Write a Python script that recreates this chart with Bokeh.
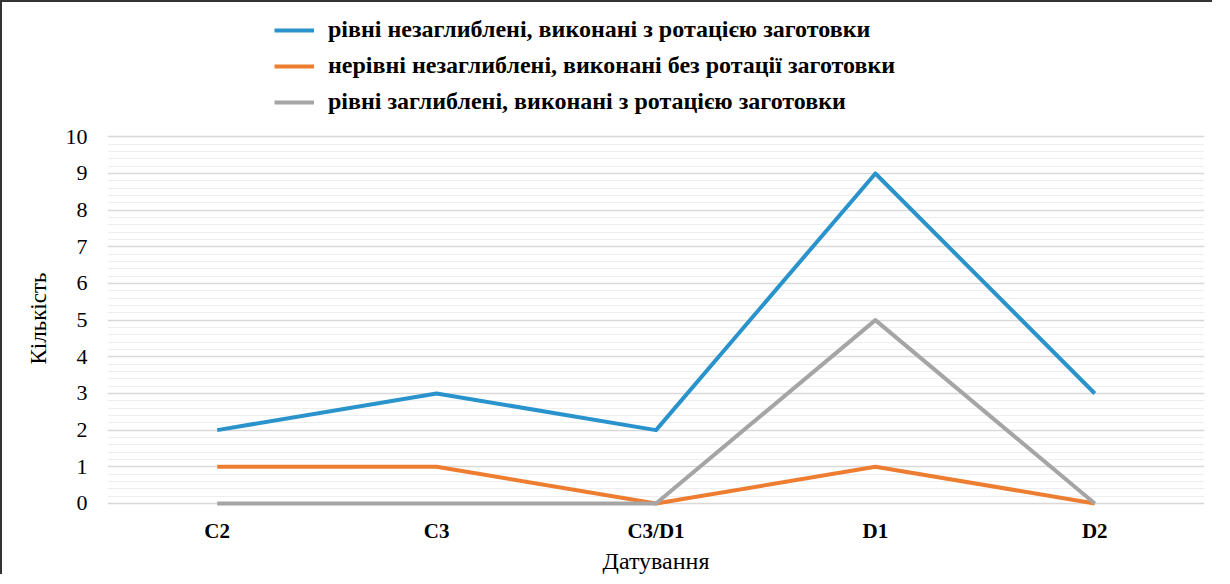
from bokeh.plotting import figure
from bokeh.models import Range1d, FactorRange, Legend, LegendItem, SingleIntervalTicker, Title
from bokeh.embed import file_html
from bokeh.resources import INLINE

categories = ["C2", "C3", "C3/D1", "D1", "D2"]
series_names = [
    "рівні незаглиблені, виконані з ротацією заготовки",
    "нерівні незаглиблені, виконані без ротації заготовки",
    "рівні заглиблені, виконані з ротацією заготовки",
]
blue_vals = [2, 3, 2, 9, 3]
orange_vals = [1, 1, 0, 1, 0]
gray_vals = [0, 0, 0, 5, 0]
colors = ["#2a93cc", "#ed7d31", "#a5a5a5"]
x_title = "Датування"
y_title = "Кількість"

FONT = "Liberation Serif"

p = figure(width=1212, height=574, x_range=FactorRange(*categories, range_padding=0),
           y_range=Range1d(-0.11, 13.39), output_backend="svg", toolbar_location=None,
           min_border_left=105, min_border_right=10, min_border_top=10,
           min_border_bottom=66)
p.styles = {"border-top": "2px solid #333", "border-left": "2px solid #333"}
p.outline_line_color = None
p.background_fill_color = "white"
p.border_fill_color = "white"

rs = []
for vals, c in zip([blue_vals, orange_vals, gray_vals], colors):
    r = p.line(categories, vals, line_color=c, line_width=4, line_join="round")
    rs.append(r)

p.yaxis.ticker = SingleIntervalTicker(interval=1, num_minor_ticks=5)
p.yaxis.bounds = (0, 10)
p.ygrid.grid_line_color = "#d9d9d9"
p.ygrid.grid_line_width = 1.5
p.ygrid.minor_grid_line_color = "#eeeeee"
p.ygrid.minor_grid_line_width = 1
p.xgrid.grid_line_color = None

for ax in (p.xaxis[0], p.yaxis[0]):
    ax.axis_line_color = None
    ax.major_tick_line_color = None
    ax.minor_tick_line_color = None
    ax.major_tick_out = 0
    ax.major_tick_in = 0
    ax.minor_tick_out = 0
    ax.minor_tick_in = 0
    ax.major_label_text_font = FONT
    ax.major_label_text_color = "#000000"
    ax.axis_label_text_font = FONT
    ax.axis_label_text_font_style = "normal"
    ax.axis_label_text_color = "#000000"

p.yaxis.major_label_text_font_size = "22px"
p.xaxis.major_label_text_font_size = "21px"
p.xaxis.axis_label_text_font_size = "24px"
p.xaxis.major_label_text_font_style = "bold"
p.xaxis.major_label_standoff = 11
p.xaxis.axis_label = x_title
p.xaxis.axis_label_standoff = 2
p.yaxis.major_label_standoff = 20

ytitle = Title(text=y_title, align="left", vertical_align="middle", offset=143,
               standoff=22, text_font=FONT, text_font_size="23px",
               text_font_style="normal", text_color="#000000")
p.add_layout(ytitle, "left")

legend = Legend(items=[LegendItem(label=n, renderers=[r]) for n, r in zip(series_names, rs)],
                location=(167, 392), orientation="vertical")
legend.border_line_color = None
legend.background_fill_alpha = 0
legend.label_text_font = FONT
legend.label_text_font_size = "24px"
legend.label_text_font_style = "bold"
legend.label_text_color = "#000000"
legend.glyph_width = 40
legend.glyph_height = 20
legend.label_height = 20
legend.label_standoff = 14
legend.spacing = 9
legend.padding = 0
legend.margin = 0
p.add_layout(legend, "center")

open("out.html", "w").write(file_html(p, INLINE))
